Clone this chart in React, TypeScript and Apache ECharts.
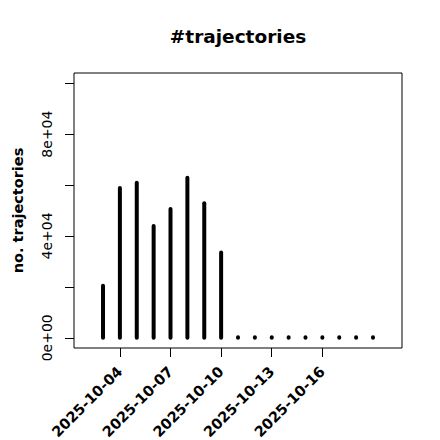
import React, { useEffect, useRef } from "react";
import * as echarts from "echarts";

const dates = [
  "2025-10-03", "2025-10-04", "2025-10-05", "2025-10-06", "2025-10-07", "2025-10-08",
  "2025-10-09", "2025-10-10", "2025-10-11", "2025-10-12", "2025-10-13", "2025-10-14",
  "2025-10-15", "2025-10-16", "2025-10-17", "2025-10-18", "2025-10-19",
];
const counts = [20400, 58800, 60900, 43900, 50600, 62900, 52800, 33500, 0, 0, 0, 0, 0, 0, 0, 0, 0];
const xTickIndices = [1, 4, 7, 10, 13];
const yTickValues = [0, 20000, 40000, 60000, 80000, 100000];
const yLabelValues = [0, 40000, 80000];
const yLabelTexts = ["0e+00", "4e+04", "8e+04"];

const FONT = "DejaVu Sans";

export default function App() {
  const ref = useRef<HTMLDivElement>(null);
  useEffect(() => {
    if (!ref.current) return;
    const chart = echarts.init(ref.current, undefined, { renderer: "svg" });
    const data = counts.map((c, i) => [i, c]);
    chart.setOption({
      animation: false,
      backgroundColor: "#fff",
      title: {
        text: "#trajectories",
        left: 238,
        top: 27,
        padding: 0,
        textAlign: "center",
        textStyle: { fontFamily: FONT, fontSize: 18.5, fontWeight: "bold", color: "#000" },
      },
      grid: {
        left: 74,
        top: 73,
        right: 38,
        bottom: 92,
        show: true,
        borderColor: "#000",
        borderWidth: 1,
        backgroundColor: "transparent",
        containLabel: false,
        outerBoundsMode: "none",
      },
      xAxis: {
        type: "value",
        min: -1.72,
        max: 17.72,
        axisLine: { show: false, onZero: false },
        splitLine: { show: false },
        axisTick: { show: true, length: 9, customValues: xTickIndices, lineStyle: { color: "#000" } },
        axisLabel: {
          customValues: xTickIndices,
          formatter: (v: number) => dates[Math.round(v)],
          rotate: 45,
          margin: 21,
          hideOverlap: false,
          fontFamily: FONT,
          fontSize: 14.5,
          fontWeight: "bold",
          color: "#000",
        },
      },
      yAxis: {
        type: "value",
        min: -4000,
        max: 104000,
        name: "no. trajectories",
        nameLocation: "middle",
        nameGap: 49,
        nameRotate: 90,
        nameTextStyle: { fontFamily: FONT, fontSize: 14.5, fontWeight: "bold", color: "#000" },
        axisLine: { show: false, onZero: false },
        splitLine: { show: false },
        axisTick: { show: true, length: 9, customValues: yTickValues, lineStyle: { color: "#000" } },
        axisLabel: {
          customValues: yLabelValues,
          formatter: (v: number) => yLabelTexts[yLabelValues.indexOf(v)] ?? "",
          rotate: 90,
          margin: 20,
          fontFamily: FONT,
          fontSize: 14,
          color: "#000",
        },
      },
      series: [
        {
          type: "custom",
          data,
          renderItem: (params: any, api: any) => {
            const x = api.value(0);
            const y = api.value(1);
            const p0 = api.coord([x, 0]);
            const p1 = api.coord([x, y]);
            const y2 = Math.abs(p1[1] - p0[1]) < 0.5 ? p0[1] - 0.5 : p1[1];
            return {
              type: "line",
              shape: { x1: p0[0], y1: p0[1], x2: p1[0], y2 },
              style: { stroke: "#000", lineWidth: 4, lineCap: "round" },
            };
          },
        },
      ],
    });
    return () => chart.dispose();
  }, []);
  return (
    <div
      ref={ref}
      style={{ position: "fixed", left: 0, top: 0, width: 440, height: 440 }}
    />
  );
}
